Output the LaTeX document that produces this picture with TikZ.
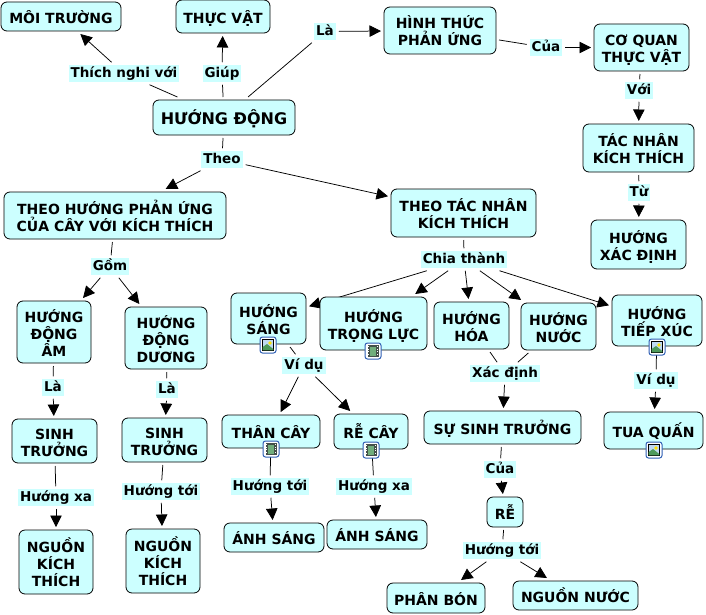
\documentclass[tikz,border=0pt]{standalone}
\usepackage{fontspec}
\setmainfont{DejaVu Sans}[BoldFont={DejaVu Sans Bold}]
\usetikzlibrary{arrows.meta,backgrounds}
\definecolor{cmfill}{HTML}{CCFFFF}
\definecolor{iconblue}{HTML}{2F5FB5}
\definecolor{iconsky}{HTML}{BFD9F2}
\definecolor{icongreen}{HTML}{4E9A5B}
\definecolor{iconfilm}{HTML}{44504A}
\tikzset{
  bo/.style={draw=black,line width=0.8pt,fill=cmfill,rounded corners=6pt,inner sep=0pt,outer sep=3pt,align=center,
    font=\bfseries\fontsize{14}{17}\selectfont},
  bigbo/.style={bo,font=\bfseries\fontsize{16}{19}\selectfont},
  lab/.style={fill=cmfill,inner xsep=2pt,inner ysep=1.5pt,outer sep=3pt,text height=10.5pt,text depth=3pt,
    font=\bfseries\fontsize{13.5}{16}\selectfont},
  ln/.style={draw=black,line width=0.75pt},
  ar/.style={ln,-{Triangle[length=11.5pt,width=11.5pt]}},
}
\newcommand\bx[7][bo]{%
  \pgfmathsetmacro\cx{(#3+#5)/2}\pgfmathsetmacro\cy{(#4+#6)/2}%
  \node[#1,minimum width={(#5-#3)*1pt},minimum height={(#6-#4)*1pt}] (#2) at (\cx,\cy) {\rule{0pt}{17pt}#7\rule[-3pt]{0pt}{3pt}};}
\newcommand\lb[4]{\node[lab] (#1) at (#2,{#3+1.5}) {#4};}
\newcommand\iconframe{\draw[iconblue,line width=1pt,fill=white,rounded corners=2.5pt] (-8,-8) rectangle (8,8);}
\newcommand\imgicon[2]{\begin{scope}[shift={(#1,#2)}]\iconframe
  \draw[black,line width=0.4pt,fill=iconsky] (-5.5,-5.5) rectangle (5.5,5.5);
  \fill[icongreen] (-5.3,5.3) -- (-5.3,2) -- (-1,-1) -- (5.3,4) -- (5.3,5.3) -- cycle;
  \fill[yellow!85!orange] (2,-2) circle (1.8);
  \end{scope}}
\newcommand\filmicon[2]{\begin{scope}[shift={(#1,#2)}]\iconframe
  \fill[iconfilm] (-5.5,-6) rectangle (5.5,6);
  \fill[icongreen!80!white] (-3,-4.5) rectangle (3,-0.4);
  \fill[icongreen!80!white] (-3,0.4) rectangle (3,4.5);
  \foreach \t in {-5,-2.5,0,2.5}{\fill[white] (-4.8,\t) rectangle (-3.7,\t+1.3);\fill[white] (3.7,\t) rectangle (4.8,\t+1.3);}
  \end{scope}}
\begin{document}
\begin{tikzpicture}[x=1pt,y=-1pt]
\useasboundingbox (0,0) rectangle (706,615);
% boxes
\bx{moitruong}{1}{2}{121}{31}{MÔI TRƯỜNG}
\bx{thucvat}{176}{0}{270}{33}{THỰC VẬT}
\bx[bigbo]{huongdong}{153}{100}{295}{135}{HƯỚNG ĐỘNG}
\bx{hinhthuc}{384}{7}{496}{54}{HÌNH THỨC\\PHẢN ỨNG}
\bx{coquan}{594}{24}{689}{71}{CƠ QUAN\\THỰC VẬT}
\bx{tacnhan}{583}{124}{694}{172}{TÁC NHÂN\\KÍCH THÍCH}
\bx{xacdinh}{591}{220}{686}{269}{HƯỚNG\\XÁC ĐỊNH}
\bx{theohuong}{4}{192}{226}{239}{THEO HƯỚNG PHẢN ỨNG\\CỦA CÂY VỚI KÍCH THÍCH}
\bx{theotac}{391}{189}{536}{237}{THEO TÁC NHÂN\\KÍCH THÍCH}
\bx{dongam}{17}{301}{91}{363}{HƯỚNG\\ĐỘNG\\ÂM}
\bx{dongduong}{125}{307}{207}{369}{HƯỚNG\\ĐỘNG\\DƯƠNG}
\bx{sinha}{12}{419}{97}{463}{SINH\\TRƯỞNG}
\bx{sinhb}{122}{418}{207}{462}{SINH\\TRƯỞNG}
\bx{nguona}{19}{530}{93}{594}{NGUỒN\\KÍCH\\THÍCH}
\bx{nguonb}{126}{529}{200}{593}{NGUỒN\\KÍCH\\THÍCH}
\bx{sang}{231}{293}{306}{344}{HƯỚNG\\SÁNG}
\bx{trongluc}{320}{297}{427}{350}{HƯỚNG\\TRỌNG LỰC}
\bx{hoa}{434}{302}{509}{349}{HƯỚNG\\HÓA}
\bx{nuoc}{521}{303}{596}{350}{HƯỚNG\\NƯỚC}
\bx{tiepxuc}{612}{295}{702}{346}{HƯỚNG\\TIẾP XÚC}
\bx{thancay}{222}{415}{320}{448}{THÂN CÂY}
\bx{recay}{334}{414}{408}{449}{RỄ CÂY}
\bx{anhsanga}{224}{523}{324}{552}{ÁNH SÁNG}
\bx{anhsangb}{327}{520}{427}{549}{ÁNH SÁNG}
\bx{susinh}{424}{411}{581}{444}{SỰ SINH TRƯỞNG}
\bx{tuaquan}{604}{412}{703}{449}{TUA QUẤN}
\bx{re}{487}{497}{523}{527}{RỄ}
\bx{phanbon}{387}{583}{485}{613}{PHÂN BÓN}
\bx{nguonnuoc}{513}{581}{638}{610}{NGUỒN NƯỚC}
% labels
\lb{lthich}{124}{72}{Thích nghi với}
\lb{lgiup}{222}{72}{Giúp}
\lb{lla}{325}{30}{Là}
\lb{lcua}{546}{46}{Của}
\lb{lvoi}{639}{89}{Với}
\lb{ltu}{639}{191}{Từ}
\lb{ltheo}{222}{158}{Theo}
\lb{lgom}{110}{265}{Gồm}
\lb{llaa}{53}{386}{Là}
\lb{llab}{167}{388}{Là}
\lb{lxaa}{56}{496}{Hướng xa}
\lb{ltoia}{161}{490}{Hướng tới}
\lb{lchia}{464}{258}{Chia thành}
\lb{lvida}{304}{364}{Ví dụ}
\lb{ltoib}{270}{485}{Hướng tới}
\lb{lxab}{374}{485}{Hướng xa}
\lb{lxacdinh}{505}{372}{Xác định}
\lb{lvidb}{656}{379}{Ví dụ}
\lb{lcuab}{500}{468}{Của}
\lb{ltoic}{502}{549}{Hướng tới}
% connectors
\begin{scope}[on background layer]
\fill[white] (0,0) rectangle (706,615);
\draw[ln] (huongdong) -- (lthich);
\draw[ar] (lthich) -- (moitruong);
\draw[ln] (huongdong) -- (lgiup);
\draw[ar] (lgiup) -- (thucvat);
\draw[ln] (huongdong) -- (lla);
\draw[ar] (lla) -- (hinhthuc);
\draw[ln] (hinhthuc) -- (lcua);
\draw[ar] (lcua) -- (coquan);
\draw[ln] (coquan) -- (lvoi);
\draw[ar] (lvoi) -- (tacnhan);
\draw[ln] (tacnhan) -- (ltu);
\draw[ar] (ltu) -- (xacdinh);
\draw[ln] (huongdong) -- (ltheo);
\draw[ar] (ltheo) -- (theohuong);
\draw[ar] (ltheo) -- (theotac);
\draw[ln] (theohuong) -- (lgom);
\draw[ar] (lgom) -- (dongam);
\draw[ar] (lgom) -- (dongduong);
\draw[ln] (dongam) -- (llaa);
\draw[ar] (llaa) -- (sinha);
\draw[ln] (dongduong) -- (llab);
\draw[ar] (llab) -- (sinhb);
\draw[ln] (sinha) -- (lxaa);
\draw[ar] (lxaa) -- (nguona);
\draw[ln] (sinhb) -- (ltoia);
\draw[ar] (ltoia) -- (nguonb);
\draw[ln] (theotac) -- (lchia);
\draw[ar] (lchia) -- (sang);
\draw[ar] (lchia) -- (trongluc);
\draw[ar] (lchia) -- (hoa);
\draw[ar] (lchia) -- (nuoc);
\draw[ar] (lchia) -- (tiepxuc);
\draw[ln] (sang) -- (lvida);
\draw[ar] (lvida) -- (thancay);
\draw[ar] (lvida) -- (recay);
\draw[ln] (thancay) -- (ltoib);
\draw[ar] (ltoib) -- (anhsanga);
\draw[ln] (recay) -- (lxab);
\draw[ar] (lxab) -- (anhsangb);
\draw[ln] (hoa) -- (lxacdinh);
\draw[ln] (nuoc) -- (lxacdinh);
\draw[ar] (lxacdinh) -- (susinh);
\draw[ln] (tiepxuc) -- (lvidb);
\draw[ar] (lvidb) -- (tuaquan);
\draw[ln] (susinh) -- (lcuab);
\draw[ar] (lcuab) -- (re);
\draw[ln] (re) -- (ltoic);
\draw[ar] (ltoic) -- (phanbon);
\draw[ar] (ltoic) -- (nguonnuoc);
\end{scope}
% icons
\imgicon{268}{345}
\filmicon{373}{351}
\filmicon{271}{449}
\filmicon{371}{450}
\imgicon{657}{347}
\imgicon{654}{450}
\end{tikzpicture}
\end{document}
